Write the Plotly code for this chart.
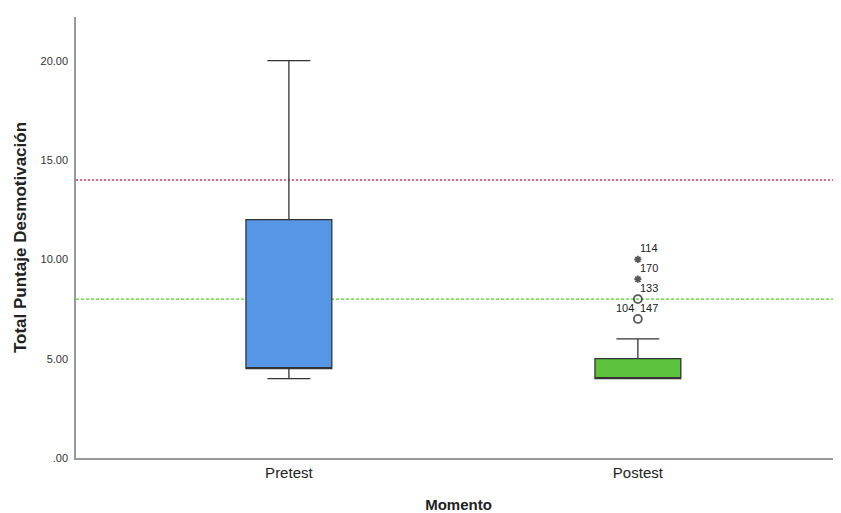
import plotly.graph_objects as go

groups = ["Pretest", "Postest"]
q1 = [4.5, 4.0]
median = [4.5, 4.0]
q3 = [12.0, 5.0]
lower = [4.0, 4.0]
upper = [20.0, 6.0]
fills = ["#5596E6", "#5DC33C"]

out_y = [7, 8, 9, 10]
out_sym = ["circle-open", "circle-open", "asterisk-open", "asterisk-open"]
out_size = [8, 8, 6, 6]
lab_y = [7, 7, 8, 9, 10]
lab_text = ["104", "147", "133", "170", "114"]
lab_dx = [-13, 11, 11, 11, 11]

ref_red = 14
ref_green = 8

yticks = [0, 5, 10, 15, 20]
yticktext = [".00", "5.00", "10.00", "15.00", "20.00"]

fig = go.Figure()
for g, a, m, b, lo, hi, c in zip(groups, q1, median, q3, lower, upper, fills):
    fig.add_trace(go.Box(
        x=[g], q1=[a], median=[m], q3=[b], lowerfence=[lo], upperfence=[hi],
        fillcolor=c, line=dict(color="#333333", width=1.3), width=0.246,
        whiskerwidth=0.5, boxpoints=False, showlegend=False, hoverinfo="skip"))

fig.add_trace(go.Scatter(
    x=["Postest"] * len(out_y), y=out_y, mode="markers",
    marker=dict(symbol=out_sym, size=out_size, color="#111111", line=dict(color="#111111", width=1.8)),
    showlegend=False, hoverinfo="skip"))

for yv, t, dx in zip(lab_y, lab_text, lab_dx):
    fig.add_annotation(x="Postest", y=yv, text=t, showarrow=False, xshift=dx, yshift=11,
                       font=dict(family="Liberation Sans, Arial", size=11, color="#222222"))

fig.add_shape(type="line", xref="paper", x0=0, x1=1, yref="y", y0=ref_red, y1=ref_red,
              line=dict(color="#E8325A", width=1.5, dash="2px,2px"), layer="below")
fig.add_shape(type="line", xref="paper", x0=0, x1=1, yref="y", y0=ref_green, y1=ref_green,
              line=dict(color="#55D228", width=1.2, dash="3px,2px"), layer="below")

fig.update_layout(
    width=833, height=505,
    margin=dict(l=68, r=0, t=9, b=55),
    plot_bgcolor="white", paper_bgcolor="white",
    font=dict(family="Liberation Sans, Arial", color="#222222"),
    xaxis=dict(type="category", categoryorder="array", categoryarray=groups,
               range=[-0.61, 1.582], showline=True, linecolor="#999999", linewidth=1.5,
               showgrid=False, ticks="", tickfont=dict(size=15, color="#222222"),
               title=dict(text="<b>Momento</b>", font=dict(size=15), standoff=21)),
    yaxis=dict(range=[0, 22.2], showline=True, linecolor="#999999", linewidth=1.5,
               showgrid=False, zeroline=False, ticks="", tickvals=yticks, ticktext=yticktext,
               tickfont=dict(size=11, color="#333333"), ticklabelstandoff=4,
               title=dict(text="<b>Total Puntaje Desmotivación</b>", font=dict(size=17), standoff=10)),
)

fig.write_html("out.html")
